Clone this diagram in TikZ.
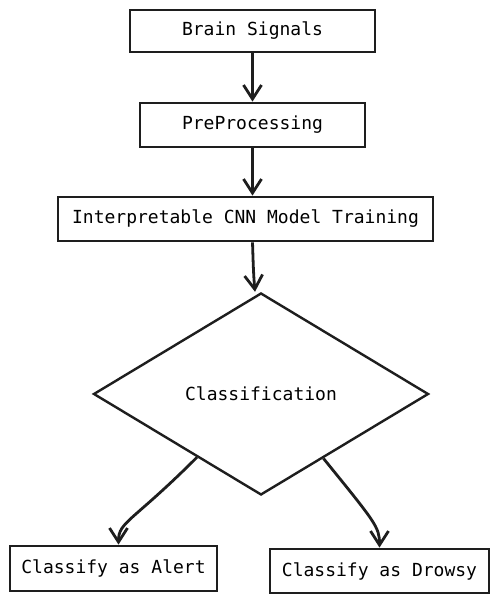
\documentclass[tikz,border=0pt]{standalone}
\usepackage{fontspec}
\setmonofont{DejaVu Sans Mono}
\usepackage{tikz}
\usetikzlibrary{arrows,arrows.meta,shapes,positioning,calc}
\usepackage{xcolor}
\definecolor{skblack}{RGB}{30,30,30}
\tikzstyle{process} = [rectangle, minimum height=44pt, text centered, draw=skblack, fill=white, line width=2.8pt, font=\ttfamily\fontsize{18}{22}\selectfont]
\tikzstyle{decision} = [diamond, minimum width=335pt, minimum height=202pt, inner sep=0pt, text centered, draw=skblack, fill=white, line width=2.4pt, font=\ttfamily\fontsize{18}{22}\selectfont]
\tikzstyle{arrow} = [line width=2.8pt, color=skblack, -{Straight Barb[length=14pt,width=18pt]}]

\begin{document}
\begin{tikzpicture}[x=1pt, y=1pt, node distance=94pt]
\useasboundingbox (0,0) rectangle (498,602);

\node (step1) [process, minimum width=245pt, minimum height=42pt] at (252.5,571) {Brain Signals};

\node (step2) [process, below of=step1, minimum width=225pt] {PreProcessing};

\node (step3) [process, minimum width=375pt] at (245.5,383) {Interpretable CNN Model Training};

\node (decide) [decision] at (261,208) {Classification};

\node (alert) [process, minimum width=207pt, minimum height=45pt] at (113.5,33.5) {Classify as Alert};

\node (drowsy) [process, minimum width=219pt] at (379.5,31) {Classify as Drowsy};

\draw[arrow] (step1) -- (step2);
\draw[arrow] (step2) -- (step2 |- step3.north);
\draw[arrow] (step3.south -| step2) to[out=-88, in=95] ([xshift=-6pt]decide.north);
\draw[arrow] ($(decide.west)!0.62!(decide.south)$) to[out=-135, in=90, out looseness=2, in looseness=0.5] ([xshift=5pt]alert.north);
\draw[arrow] ($(decide.east)!0.63!(decide.south)$) to[out=-51, in=90, out looseness=2, in looseness=0.5] (drowsy.north);
\end{tikzpicture}
\end{document}
